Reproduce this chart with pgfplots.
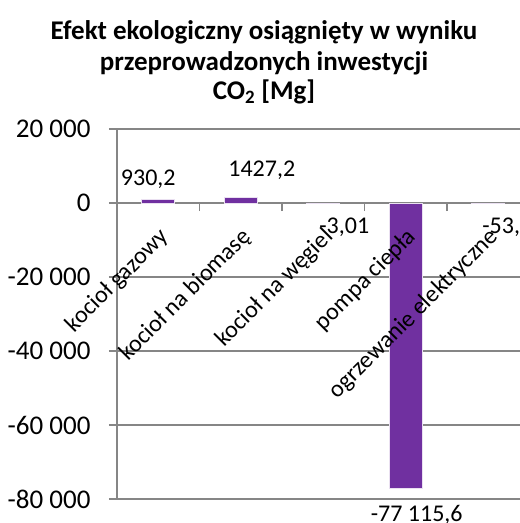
\documentclass[border=0pt]{standalone}
\usepackage{fontspec}
\setmainfont{Carlito}
\usepackage{pgfplots}
\pgfplotsset{compat=1.18}
\definecolor{barpurple}{HTML}{7030A0}
\definecolor{gridgray}{HTML}{868686}
\pgfplotsset{
 layers/mylayers/.define layer set={axis background,axis grid,axis ticks,axis lines,pre main,main,axis tick labels,axis descriptions,axis foreground}{
    grid style={/pgfplots/on layer=axis grid},
    tick style={/pgfplots/on layer=axis ticks},
    axis line style={/pgfplots/on layer=axis lines},
    label style={/pgfplots/on layer=axis descriptions},
    legend style={/pgfplots/on layer=axis descriptions},
    title style={/pgfplots/on layer=axis descriptions},
    colorbar style={/pgfplots/on layer=axis descriptions},
    ticklabel style={/pgfplots/on layer=axis tick labels},
    axis background@ style={/pgfplots/on layer=axis background},
    3d box foreground style={/pgfplots/on layer=axis foreground},
 },
}
\begin{document}
\begin{tikzpicture}
\begin{axis}[
  set layers=mylayers,
  scale only axis,
  width=412.5pt, height=370pt,
  xmin=-0.5, xmax=4.5, ymin=-80000, ymax=20000,
  axis x line=middle, axis y line=left,
  axis line style={draw=gridgray, line width=1.5pt, -},
  ymajorgrids,
  grid style={draw=gridgray, line width=1.5pt},
  tick style={draw=gridgray, line width=1.5pt},
  tick align=outside,
  major tick length=8pt,
  scaled y ticks=false,
  ytick={-80000,-60000,-40000,-20000,0,20000},
  yticklabels={{-80 000},{-60 000},{-40 000},{-20 000},{0},{20 000}},
  yticklabel style={font=\fontsize{27}{31}\selectfont, anchor=east, xshift=-15pt},
  xtick={0.5,1.5,2.5,3.5},
  xticklabels={},
  extra x ticks={0,1,2,3,4},
  extra x tick labels={kocioł gazowy,kocioł na biomasę,kocioł na węgiel,pompa ciepła,ogrzewanie elektryczne},
  extra x tick style={major tick length=0pt, grid=none,
     xticklabel style={font=\fontsize{24}{28}\selectfont, xshift=9pt, yshift=-28pt, rotate=45, anchor=east}},
  ybar, bar width=33pt, bar shift=0pt,
  clip=false,
  every node near coord/.append style={font=\fontsize{24}{28}\selectfont, text=black, anchor=center},
]
\addplot[fill=barpurple, draw=white!85!barpurple, line width=0.5pt, nodes near coords={930,2},
  every node near coord/.append style={xshift=-10pt, yshift=20pt}] coordinates {(0,930.2)};
\addplot[fill=barpurple, draw=white!85!barpurple, line width=0.5pt, nodes near coords={1427,2},
  every node near coord/.append style={xshift=21pt, yshift=27pt}] coordinates {(1,1427.2)};
\addplot[fill=barpurple, draw=white!85!barpurple, line width=0.5pt, nodes near coords={-3,01},
  every node near coord/.append style={xshift=21pt, yshift=-24pt}] coordinates {(2,-3.01)};
\addplot[fill=barpurple, draw=white!85!barpurple, line width=0.5pt, nodes near coords={-77 115,6},
  every node near coord/.append style={xshift=11pt, yshift=-27pt}] coordinates {(3,-77115.6)};
\addplot[fill=barpurple, draw=white!85!barpurple, line width=0.5pt, nodes near coords={-53,7},
  every node near coord/.append style={xshift=19pt, yshift=-24pt}] coordinates {(4,-53.7)};
\end{axis}
\node[anchor=base, font=\fontsize{27}{32}\selectfont\bfseries] at (147pt,459pt) {Efekt ekologiczny osiągnięty w wyniku};
\node[anchor=base, font=\fontsize{27}{32}\selectfont\bfseries] at (147pt,428pt) {przeprowadzonych inwestycji};
\node[anchor=base, font=\fontsize{27}{32}\selectfont\bfseries] at (147pt,399pt) {CO\textsubscript{2} [Mg]};
\pgfresetboundingbox
\path[use as bounding box] (-117pt,-24pt) rectangle (403pt,499pt);
\end{tikzpicture}
\end{document}
